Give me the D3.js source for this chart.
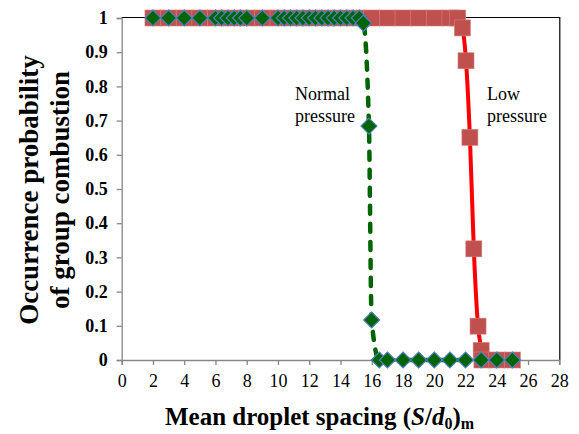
<html>
<head>
<meta charset="utf-8">
<style>
  body { margin: 0; background: #fff; }
  svg text { font-family: "Liberation Serif", "Times New Roman", serif; }
</style>
</head>
<body>
<script src="https://d3js.org/d3.v7.min.js"></script>
<script>
// Normal pressure series (green diamonds)
var normalX = [2, 3, 4, 5, 6, 6.4, 6.8, 7.2, 7.6, 8, 9, 10, 10.4, 10.8, 11.2, 11.6, 12, 12.4, 12.8,
               13.2, 13.6, 14, 14.4, 14.8, 15.2, 15.46, 15.82, 15.99, 16.48, 17, 18, 19, 20, 21, 22, 23, 24, 25];
var normalY = [1, 1, 1, 1, 1, 1, 1, 1, 1, 1, 1, 1, 1, 1, 1, 1, 1, 1, 1,
               1, 1, 1, 1, 1, 1, 0.985, 0.684, 0.117, 0, 0, 0, 0, 0, 0, 0, 0, 0, 0];
// Low pressure series (red squares)
var lowX = [2, 3, 4, 5, 6, 7, 8, 9, 10, 11, 12, 13, 14, 15, 16, 17, 18, 19, 20, 21,
            21.5, 21.8, 22.03, 22.28, 22.53, 22.8, 23.0, 23.05, 24, 25];
var lowY = [1, 1, 1, 1, 1, 1, 1, 1, 1, 1, 1, 1, 1, 1, 1, 1, 1, 1, 1, 1,
            1, 0.971, 0.875, 0.651, 0.325, 0.099, 0.028, 0, 0, 0];
var xTicks = [0, 2, 4, 6, 8, 10, 12, 14, 16, 18, 20, 22, 24, 26, 28];
var yTicks = [0, 0.1, 0.2, 0.3, 0.4, 0.5, 0.6, 0.7, 0.8, 0.9, 1];

var w = 579, h = 434;
var padL = 121.7, padR = 559.3, padT = 18, padB = 360;

var svg = d3.select("body").append("svg")
            .attr("width", w)
            .attr("height", h);

var x = d3.scaleLinear().domain([0, 28]).range([padL, padR]);
var y = d3.scaleLinear().domain([0, 1]).range([padB, padT]);

var normal = normalX.map(function(v, i) { return [v, normalY[i]]; });
var low = lowX.map(function(v, i) { return [v, lowY[i]]; });

// plot border (top and right in black)
svg.append("path")
   .attr("d", "M" + padL + "," + (padT - 0.5) + "H" + (padR + 0.5) + "V" + padB)
   .attr("fill", "none")
   .attr("stroke", "#000")
   .attr("stroke-width", 1.2);

// axes
var xAxis = d3.axisBottom(x).tickValues(xTicks).tickSize(5).tickFormat(d3.format("d"));
var gx = svg.append("g")
   .attr("transform", "translate(0," + padB + ")")
   .call(xAxis);
gx.select(".domain").attr("stroke", "#878787").attr("stroke-width", 1.3);
gx.selectAll(".tick line").attr("stroke", "#878787").attr("stroke-width", 1.3);
gx.selectAll(".tick text")
  .attr("y", 27)
  .attr("dy", 0)
  .attr("fill", "#000")
  .style("font-size", "18px")
  .style("font-family", "Liberation Serif");

var yAxis = d3.axisLeft(y).tickValues(yTicks).tickSize(5).tickFormat(function(d) { return String(+d.toFixed(1)); });
var gy = svg.append("g")
   .attr("transform", "translate(" + padL + ",0)")
   .call(yAxis);
gy.select(".domain").attr("stroke", "#878787").attr("stroke-width", 1.3);
gy.selectAll(".tick line").attr("stroke", "#878787").attr("stroke-width", 1.3);
gy.selectAll(".tick text")
  .attr("x", -14)
  .attr("fill", "#000")
  .style("font-size", "18px")
  .style("font-weight", "bold")
  .style("font-family", "Liberation Serif");

// lines first, then markers
var line = d3.line()
             .x(function(d) { return x(d[0]); })
             .y(function(d) { return y(d[1]); })
             .curve(d3.curveMonotoneX);

svg.append("path")
   .datum(low)
   .attr("d", line)
   .attr("fill", "none")
   .attr("stroke", "#ff0000")
   .attr("stroke-width", 4);

svg.append("path")
   .datum(normal)
   .attr("d", line)
   .attr("fill", "none")
   .attr("stroke", "#006400")
   .attr("stroke-width", 4.5)
   .attr("stroke-linecap", "round")
   .attr("stroke-dasharray", "8,10");

var sq = 16;
svg.selectAll("rect.low")
   .data(low)
   .enter()
   .append("rect")
   .attr("class", "low")
   .attr("x", function(d) { return x(d[0]) - sq / 2; })
   .attr("y", function(d) { return y(d[1]) - sq / 2; })
   .attr("width", sq)
   .attr("height", sq)
   .attr("fill", "#c0504d")
   .attr("stroke", "#cf8280")
   .attr("stroke-width", 0.6);

var r = 8;
svg.selectAll("path.normal")
   .data(normal)
   .enter()
   .append("path")
   .attr("class", "normal")
   .attr("d", "M0," + (-r) + "L" + r + ",0L0," + r + "L" + (-r) + ",0Z")
   .attr("transform", function(d) { return "translate(" + x(d[0]) + "," + y(d[1]) + ")"; })
   .attr("fill", "#006400")
   .attr("stroke", "#4f81bd")
   .attr("stroke-width", 1.2);

// series labels
function label(lines, px, py) {
  var t = svg.append("text")
             .attr("x", px)
             .attr("y", py)
             .style("font-size", "18px")
             .attr("fill", "#000");
  lines.forEach(function(s, i) {
    t.append("tspan").attr("x", px).attr("dy", i === 0 ? 0 : 22).text(s);
  });
}
label(["Normal", "pressure"], 295, 100);
label(["Low", "pressure"], 487, 100);

// axis titles
var xt = svg.append("text")
   .attr("x", (padL + padR) / 2 - 21)
   .attr("y", 425)
   .attr("text-anchor", "middle")
   .style("font-size", "25px")
   .style("font-weight", "bold");
xt.append("tspan").text("Mean droplet spacing (");
xt.append("tspan").style("font-style", "italic").text("S");
xt.append("tspan").text("/");
xt.append("tspan").style("font-style", "italic").text("d");
xt.append("tspan").attr("dy", 4).style("font-size", "16px").text("0");
xt.append("tspan").attr("dy", -4).text(")");
xt.append("tspan").attr("dy", 4).style("font-size", "16px").text("m");

svg.append("text")
   .attr("transform", "translate(38,190) rotate(-90)")
   .attr("text-anchor", "middle")
   .style("font-size", "27px")
   .style("font-weight", "bold")
   .text("Occurrence  probability");

svg.append("text")
   .attr("transform", "translate(69,190) rotate(-90)")
   .attr("text-anchor", "middle")
   .style("font-size", "27px")
   .style("font-weight", "bold")
   .text("of group combustion");
</script>
</body>
</html>
